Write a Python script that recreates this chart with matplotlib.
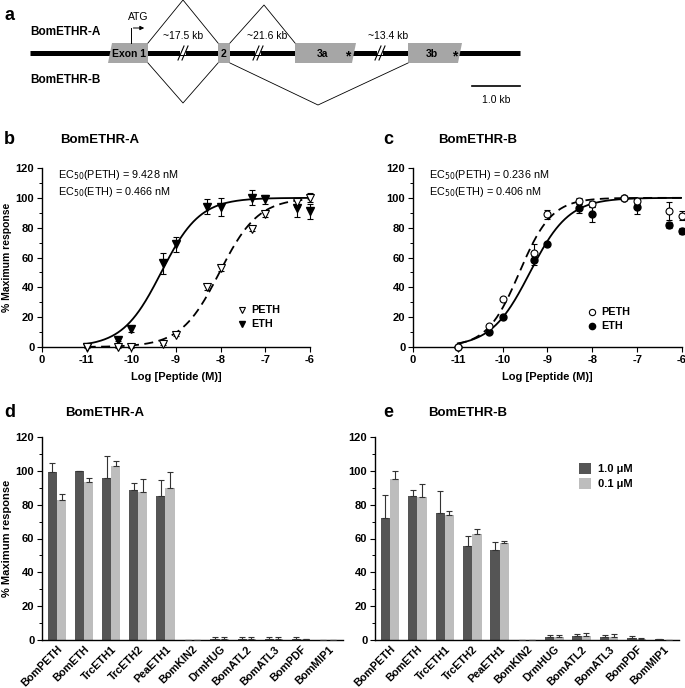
import numpy as np
import matplotlib
matplotlib.use('Agg')
import matplotlib.pyplot as plt
from matplotlib.patches import Polygon
from matplotlib.ticker import MultipleLocator

plt.rcParams['font.family'] = ['Liberation Sans', 'DejaVu Sans']

# dose-response data (log M)
log_dose = [-11, -10.3, -10, -9.3, -9, -8.3, -8, -7.3, -7, -6.3, -6]

# BomETHR-A
a_peth = [0, 0, 0, 2, 8, 40, 53, 79, 89, 97, 100]
a_peth_err = [0.5, 0.5, 0.5, 0.5, 0.5, 2, 2, 1, 2, 3, 3]
a_eth = [0, 5, 12, 56, 69, 94, 94, 100, 99, 93, 91]
a_eth_err = [0, 1, 2, 7, 5, 5, 6, 5, 3, 6, 5]
a_ec50 = {'PETH': 9.428, 'ETH': 0.466}   # nM
a_hill = {'PETH': 1.0, 'ETH': 1.0}

# BomETHR-B
b_peth = [0, 14, 32, 63, 89, 98, 96, 100, 98, 91, 88]
b_peth_err = [1, 1, 1, 6, 3, 2, 2, 1, 2, 6, 3]
b_eth = [0, 10, 20, 58, 69, 93, 89, 100, 94, 82, 78]
b_eth_err = [0.5, 1, 1.5, 3, 1, 3, 5, 1, 5, 2, 2]
b_ec50 = {'PETH': 0.236, 'ETH': 0.406}
b_hill = {'PETH': 1.2, 'ETH': 1.0}

# specificity bars
peptides = ['BomPETH', 'BomETH', 'TrcETH1', 'TrcETH2', 'PeaETH1', 'BomKIN2',
            'DrmHUG', 'BomATL2', 'BomATL3', 'BomPDF', 'BomMIP1']
d_hi = [99.2, 100, 95.9, 88.4, 85.2, 0, 0.5, 0.5, 0.5, 0.5, 0]
d_hi_err = [5.3, 0, 12.8, 4.5, 9.5, 0, 1.5, 1.2, 1.2, 1.2, 0]
d_lo = [83, 93.5, 102.6, 87.6, 89.8, 0, 0.5, 0.5, 0.5, 0.3, 0]
d_lo_err = [3.6, 2.5, 3.1, 7.3, 9.8, 0, 1.5, 1.2, 1.2, 0.3, 0]
e_hi = [72.4, 85, 75.2, 55.5, 53.1, 0, 1.8, 2.4, 1.8, 1.0, 0.3]
e_hi_err = [13.2, 3.4, 13, 5.9, 4.6, 0, 1.3, 1.1, 1.3, 1.2, 0]
e_lo = [95.1, 84.4, 73.6, 62.6, 57.3, 0, 1.8, 2.2, 1.8, 0.5, 0]
e_lo_err = [4.9, 7.7, 2.6, 3.0, 1.4, 0, 1.3, 1.7, 1.5, 0.9, 0]

DARK = '#555555'
LIGHT = '#bdbdbd'
GRAY = '#a6a6a6'

fig = plt.figure(figsize=(6.85, 6.88), dpi=100)

# ---------- panel a: gene structure (pixel coordinates) ----------
ax = fig.add_axes([0, 1 - 110 / 688, 1, 110 / 688])
ax.set_xlim(0, 685)
ax.set_ylim(110, 0)
ax.axis('off')
ax.plot([30, 520], [53, 53], color='black', lw=3.6, solid_capstyle='butt', zorder=1)
exons = [
    ('Exon 1', [(112, 43), (148, 43), (148, 63), (108, 63)]),
    ('2', [(218, 43), (230, 43), (230, 63), (218, 63)]),
    ('3a', [(295, 43), (356, 43), (352, 63), (295, 63)]),
    ('3b', [(408, 43), (462, 43), (458, 63), (408, 63)]),
]
exon_label_x = [129, 224, 323, 432]
for (name, pts), lx in zip(exons, exon_label_x):
    ax.add_patch(Polygon(pts, closed=True, facecolor=GRAY, edgecolor='none', zorder=2))
    ax.text(lx, 54, name, ha='center', va='center', fontsize=7.5, fontweight='bold', zorder=3)
for sx in [348, 455]:
    ax.text(sx, 56, '*', ha='center', va='center', fontsize=10, fontweight='bold', zorder=3)
# splice lines
ax.plot([148, 183, 218], [43, 0, 43], color='black', lw=0.6)
ax.plot([230, 264, 295], [43, 5, 43], color='black', lw=0.6)
ax.plot([148, 183, 218], [63, 103, 63], color='black', lw=0.6)
ax.plot([230, 318, 408], [63, 105, 63], color='black', lw=0.6)
# intron breaks
for bx in [183, 258, 380]:
    for off in [-2, 2]:
        ax.plot([bx + off - 3, bx + off + 3], [60, 46], color='black', lw=0.8, zorder=3)
    ax.add_patch(Polygon([(bx - 3, 51), (bx + 3, 51), (bx + 3, 55), (bx - 3, 55)],
                         facecolor='white', edgecolor='none', zorder=2))
for tx, lab in zip([183, 267, 388], ['~17.5 kb', '~21.6 kb', '~13.4 kb']):
    ax.text(tx, 36, lab, ha='center', va='center', fontsize=7.5)
# ATG arrow
ax.plot([131, 131], [43, 28], color='black', lw=0.7)
ax.annotate('', xy=(147, 28), xytext=(130.6, 28),
            arrowprops=dict(arrowstyle='-|>', color='black', lw=0.7, mutation_scale=6))
ax.text(138, 17, 'ATG', ha='center', va='center', fontsize=7.5)
ax.text(30, 32, 'BomETHR-A', ha='left', va='center', fontsize=8.5, fontweight='bold')
ax.text(30, 80, 'BomETHR-B', ha='left', va='center', fontsize=8.5, fontweight='bold')
ax.text(5, 15, 'a', ha='left', va='center', fontsize=13, fontweight='bold')
ax.plot([472, 520], [86, 86], color='black', lw=1.2)
ax.text(496, 100, '1.0 kb', ha='center', va='center', fontsize=7.5)


def style_axes(a):
    a.spines['top'].set_visible(False)
    a.spines['right'].set_visible(False)
    a.set_ylim(0, 120)
    a.yaxis.set_major_locator(MultipleLocator(20))
    a.yaxis.set_minor_locator(MultipleLocator(10))
    a.tick_params(axis='both', which='major', labelsize=8, length=3.5, width=0.8,
                  direction='out', pad=2)
    a.tick_params(axis='y', which='minor', length=2, width=0.7)
    for s in ['left', 'bottom']:
        a.spines[s].set_linewidth(1.0)
    for lab in a.get_yticklabels() + a.get_xticklabels():
        lab.set_fontweight('bold')


def hill(x, ec50_nm, n):
    logec = np.log10(ec50_nm * 1e-9)
    return 100 / (1 + 10 ** ((logec - x) * n))


def dose_panel(rect, peth, peth_err, eth, eth_err, ec50, hill_n, m_open, m_fill, ms, letter, title, letter_x, title_x, ylabel, leg_xy):
    a = fig.add_axes(rect)
    xs = np.linspace(-11, -6, 300)
    a.plot(xs, hill(xs, ec50['ETH'], hill_n['ETH']), color='black', lw=1.3, zorder=2)
    a.plot(xs, hill(xs, ec50['PETH'], hill_n['PETH']), color='black', lw=1.3, ls=(0, (5, 3)), zorder=2)
    a.errorbar(log_dose, eth, yerr=eth_err, fmt=m_fill, color='black', ms=ms, capsize=2.5,
               elinewidth=0.8, capthick=0.8, clip_on=False, zorder=3)
    a.errorbar(log_dose, peth, yerr=peth_err, fmt=m_open, color='black', mfc='white', mec='black',
               mew=0.8, ms=ms, capsize=2.5, elinewidth=0.8, capthick=0.8, clip_on=False, zorder=4)
    a.set_xlim(-12, -6)
    a.set_xticks(range(-12, -5))
    a.set_xticklabels(['0', '-11', '-10', '-9', '-8', '-7', '-6'])
    style_axes(a)
    a.set_xlabel('Log [Peptide (M)]', fontsize=8, fontweight='bold', labelpad=5)
    if ylabel:
        a.set_ylabel('% Maximum response', fontsize=7.5, fontweight='bold', labelpad=3)
    a.text(0.06, 0.96, 'EC$_{50}$(PETH) = %.3f nM' % ec50['PETH'], transform=a.transAxes,
           fontsize=7.8, va='center')
    a.text(0.06, 0.865, 'EC$_{50}$(ETH) = %.3f nM' % ec50['ETH'], transform=a.transAxes,
           fontsize=7.8, va='center')
    lx, ly = leg_xy
    a.plot([lx], [ly], m_open, color='black', mfc='white', mew=0.8, ms=ms - 0.5, transform=a.transAxes, clip_on=False)
    a.plot([lx], [ly - 0.075], m_fill, color='black', ms=ms - 0.5, transform=a.transAxes, clip_on=False)
    a.text(lx + 0.035, ly, 'PETH', transform=a.transAxes, fontsize=7.8, fontweight='bold', va='center')
    a.text(lx + 0.035, ly - 0.075, 'ETH', transform=a.transAxes, fontsize=7.8, fontweight='bold', va='center')
    fig.text(letter_x / 685, 1 - 140 / 688, letter, fontsize=13, fontweight='bold', va='center')
    fig.text(title_x / 685, 1 - 140 / 688, title, fontsize=9.5, fontweight='bold', va='center')
    return a


dose_panel([42 / 685, 1 - 347 / 688, 268 / 685, 179 / 688], a_peth, a_peth_err, a_eth, a_eth_err,
           a_ec50, a_hill, 'v', 'v', 5.5, 'b', 'BomETHR-A', 4, 60, True, (0.745, 0.205))
dose_panel([413 / 685, 1 - 347 / 688, 269 / 685, 179 / 688], b_peth, b_peth_err, b_eth, b_eth_err,
           b_ec50, b_hill, 'o', 'o', 5, 'c', 'BomETHR-B', 383, 438, False, (0.665, 0.195))


def bar_panel(rect, hi, hi_err, lo, lo_err, letter, title, letter_x, title_x, ylabel, legend):
    a = fig.add_axes(rect)
    x = np.arange(len(peptides))
    w = 0.34
    a.bar(x - w / 2, hi, w, color=DARK, label='1.0 \u03bcM', zorder=2)
    a.bar(x + w / 2, lo, w, color=LIGHT, label='0.1 \u03bcM', zorder=2)
    a.errorbar(x - w / 2, hi, yerr=[np.zeros(len(hi)), hi_err], fmt='none', ecolor='#333333',
               elinewidth=0.8, capsize=2.5, capthick=0.8, zorder=3)
    a.errorbar(x + w / 2, lo, yerr=[np.zeros(len(lo)), lo_err], fmt='none', ecolor='#333333',
               elinewidth=0.8, capsize=2.5, capthick=0.8, zorder=3)
    a.set_xlim(-0.55, len(peptides) - 0.45)
    a.set_xticks(x)
    a.set_xticklabels(peptides, rotation=45, ha='right', rotation_mode='anchor')
    style_axes(a)
    a.tick_params(axis='x', length=0, pad=3, labelsize=7.8)
    if ylabel:
        a.set_ylabel('% Maximum response', fontsize=8, fontweight='bold', labelpad=3)
    if legend:
        a.legend(loc='upper right', bbox_to_anchor=(0.88, 0.92), frameon=False,
                 handlelength=1.1, handleheight=1.1, handletextpad=0.6, labelspacing=0.35,
                 prop={'weight': 'bold', 'size': 8})
    fig.text(letter_x / 685, 1 - 413 / 688, letter, fontsize=13, fontweight='bold', va='center')
    fig.text(title_x / 685, 1 - 413 / 688, title, fontsize=9.5, fontweight='bold', va='center')
    return a


bar_panel([42 / 685, 1 - 640 / 688, 301 / 685, 203 / 688], d_hi, d_hi_err, d_lo, d_lo_err,
          'd', 'BomETHR-A', 4, 65, True, False)
bar_panel([375 / 685, 1 - 640 / 688, 304 / 685, 203 / 688], e_hi, e_hi_err, e_lo, e_lo_err,
          'e', 'BomETHR-B', 383, 428, False, True)

fig.savefig('out.png', dpi=100)
